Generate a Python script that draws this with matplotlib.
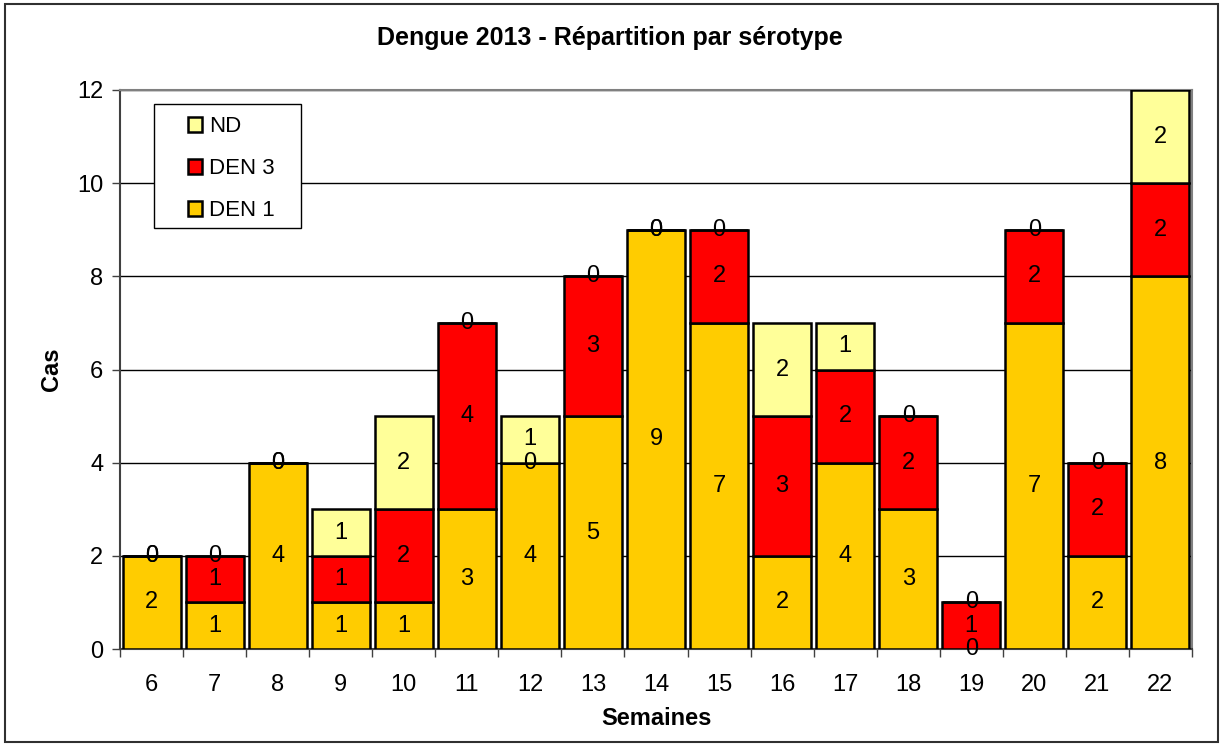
import numpy as np
import matplotlib.pyplot as plt
from matplotlib.patches import Rectangle

plt.rcParams['font.family'] = ['Liberation Sans', 'DejaVu Sans']

weeks = ['6', '7', '8', '9', '10', '11', '12', '13', '14', '15', '16', '17', '18', '19', '20', '21', '22']
den1 = [2, 1, 4, 1, 1, 3, 4, 5, 9, 7, 2, 4, 3, 0, 7, 2, 8]
den3 = [0, 1, 0, 1, 2, 4, 0, 3, 0, 2, 3, 2, 2, 1, 2, 2, 2]
nd = [0, 0, 0, 1, 2, 0, 1, 0, 0, 0, 2, 1, 0, 0, 0, 0, 2]

series = [('DEN 1', den1, '#FFCC00'),
          ('DEN 3', den3, '#FF0000'),
          ('ND', nd, '#FFFF99')]

W, H = 1220, 746
fig = plt.figure(figsize=(W / 100, H / 100), dpi=100)
ax = fig.add_axes([120 / W, 1 - 649 / H, (1192 - 120) / W, (649 - 90) / H])

x = np.arange(len(weeks))
bottom = np.zeros(len(weeks))
bars = {}
for name, vals, col in series:
    vals = np.array(vals, dtype=float)
    b = ax.bar(x, vals, 0.92, bottom=bottom, color=col,
               edgecolor='black', linewidth=1.8, label=name, zorder=3)
    bars[name] = b
    for xi, v, b0 in zip(x, vals, bottom):
        ax.text(xi, b0 + v / 2, '%d' % v, ha='center', va='center',
                fontsize=17, zorder=5)
    bottom = bottom + vals

ax.set_xlim(-0.5, len(weeks) - 0.5)
ax.set_ylim(0, 12)
ax.set_yticks(range(0, 13, 2))
ax.set_xticks(x)
ax.set_xticklabels(weeks)
ax.set_xticks(np.arange(-0.5, len(weeks), 1), minor=True)
ax.tick_params(axis='x', which='major', length=0, pad=18, labelsize=17)
ax.tick_params(axis='x', which='minor', length=6, width=1, color='#404040')
ax.tick_params(axis='y', length=6, width=1, color='#404040', labelsize=17, pad=6)

ax.yaxis.grid(True, color='black', linewidth=1, zorder=0)
ax.set_axisbelow(True)
for s in ['top', 'right']:
    ax.spines[s].set_color('#808080')
    ax.spines[s].set_linewidth(1.5)
ax.spines['left'].set_color('#404040')
ax.spines['bottom'].set_color('#404040')
ax.spines['left'].set_linewidth(1.5)
ax.spines['bottom'].set_linewidth(1.5)

ax.set_xlabel('Semaines', fontsize=17, fontweight='bold', labelpad=8)
ax.set_ylabel('Cas', fontsize=17, fontweight='bold', labelpad=10)
fig.text(0.5, 1 - 38 / H, 'Dengue 2013 - Répartition par sérotype',
         ha='center', va='center', fontsize=18, fontweight='bold')

# legend: Excel-like box drawn by hand, entries placed inside it
fig.patches.append(Rectangle((154 / W, 1 - 228 / H), (301 - 154) / W, (228 - 104) / H,
                             transform=fig.transFigure, facecolor='white',
                             edgecolor='black', linewidth=1, zorder=6))
handles = [bars['ND'], bars['DEN 3'], bars['DEN 1']]
leg = fig.legend(handles, ['ND', 'DEN 3', 'DEN 1'],
                 loc='upper left', bbox_to_anchor=(188 / W, 1 - 116 / H),
                 fontsize=16, frameon=False, handlelength=0.65,
                 handleheight=0.65, handletextpad=0.3, labelspacing=0.95,
                 borderpad=0, borderaxespad=0)
leg.set_zorder(7)

fig.patches.append(Rectangle((5 / W, 4 / H), 1 - 7 / W, 1 - 8 / H, transform=fig.transFigure,
                             fill=False, edgecolor='#303030', linewidth=1.5))

fig.savefig('out.png', dpi=100)
